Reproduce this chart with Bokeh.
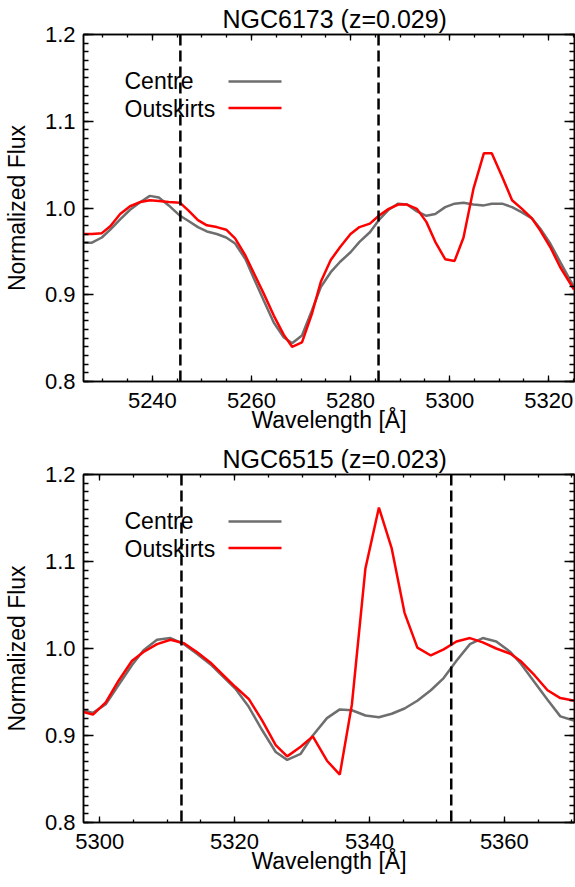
from bokeh.plotting import figure
from bokeh.models import (Range1d, FixedTicker, LinearAxis, Span, Label, Arrow,
                          PrintfTickFormatter, CustomLabelingPolicy)
from bokeh.layouts import column
from bokeh.embed import file_html
from bokeh.resources import INLINE

FONT = "Liberation Sans"

# ---------------- data ----------------
wl_6173 = [5226.1, 5227.8, 5229.8, 5231.5, 5233.5, 5235.5, 5237.6, 5239.5, 5241.3, 5243.3,
           5245.6, 5247.3, 5249.2, 5251.0, 5253.0, 5254.9, 5256.7, 5258.8, 5260.4, 5262.5,
           5264.5, 5266.5, 5268.2, 5270.2, 5272.2, 5274.0, 5276.0, 5277.9, 5280.0, 5281.8,
           5283.9, 5285.7, 5287.7, 5289.6, 5291.4, 5293.4, 5295.3, 5297.1, 5299.1, 5301.0,
           5302.8, 5304.8, 5306.9, 5308.5, 5310.6, 5312.6, 5314.6, 5316.6, 5318.3, 5320.3,
           5322.3, 5325.1]
centre_6173 = [0.960, 0.960, 0.966, 0.975, 0.987, 0.998, 1.007, 1.014, 1.012, 1.003,
               0.991, 0.985, 0.978, 0.973, 0.970, 0.966, 0.959, 0.941, 0.920, 0.893,
               0.868, 0.851, 0.844, 0.853, 0.882, 0.909, 0.926, 0.938, 0.949, 0.961,
               0.972, 0.986, 0.998, 1.005, 1.004, 0.996, 0.991, 0.993, 1.001, 1.005,
               1.006, 1.004, 1.003, 1.005, 1.005, 1.001, 0.995, 0.988, 0.976, 0.959,
               0.938, 0.909]
outskirts_6173 = [0.970, 0.970, 0.971, 0.979, 0.993, 1.002, 1.007, 1.009, 1.008, 1.007,
                  1.006, 0.997, 0.986, 0.980, 0.978, 0.975, 0.965, 0.945, 0.926, 0.901,
                  0.876, 0.854, 0.840, 0.845, 0.878, 0.915, 0.940, 0.955, 0.970, 0.978,
                  0.982, 0.991, 0.999, 1.004, 1.004, 0.999, 0.984, 0.961, 0.941, 0.939,
                  0.966, 1.022, 1.063, 1.063, 1.036, 1.009, 0.999, 0.988, 0.974, 0.955,
                  0.932, 0.906]

wl_6515 = [5297.6, 5299.0, 5300.9, 5302.8, 5304.8, 5306.5, 5308.5, 5310.5, 5312.5, 5314.4,
           5316.4, 5318.1, 5320.1, 5322.1, 5324.1, 5326.1, 5327.8, 5329.8, 5331.6, 5333.7,
           5335.6, 5337.4, 5339.4, 5341.4, 5343.3, 5345.2, 5347.1, 5349.1, 5351.0, 5352.9,
           5354.9, 5356.8, 5358.8, 5360.9, 5362.5, 5364.5, 5366.4, 5368.3, 5370.4]
centre_6515 = [0.929, 0.926, 0.936, 0.958, 0.981, 0.998, 1.010, 1.012, 1.005, 0.994,
               0.982, 0.969, 0.954, 0.933, 0.906, 0.881, 0.872, 0.879, 0.900, 0.920,
               0.930, 0.929, 0.923, 0.921, 0.925, 0.931, 0.940, 0.952, 0.966, 0.986,
               1.005, 1.012, 1.008, 0.996, 0.982, 0.961, 0.941, 0.922, 0.917]
outskirts_6515 = [0.927, 0.924, 0.938, 0.963, 0.986, 0.996, 1.005, 1.010, 1.006, 0.996,
                  0.984, 0.971, 0.956, 0.942, 0.917, 0.889, 0.876, 0.887, 0.899, 0.871,
                  0.855, 0.936, 1.092, 1.162, 1.115, 1.041, 1.001, 0.992, 0.999, 1.008,
                  1.012, 1.007, 1.000, 0.994, 0.985, 0.969, 0.952, 0.943, 0.940]

titles = ["NGC6173 (z=0.029)", "NGC6515 (z=0.023)"]
x_label = "Wavelength [Å]"
y_label = "Normalized Flux"
xrange_6173 = (5226.1, 5325.2)
xrange_6515 = (5297.6, 5370.4)
xticks_6173 = [5240, 5260, 5280, 5300, 5320]
xticks_6515 = [5300, 5320, 5340, 5360]
xminor_6173 = [5225 + 5 * i for i in range(21)]
xminor_6515 = [5295 + 5 * i for i in range(16)]
yticks = [0.8, 0.9, 1.0, 1.1, 1.2]
yminor = [round(0.8 + 0.01 * i, 2) for i in range(41)]
band_6173 = [5245.65, 5285.65]   # Fe5270 index band
band_6515 = [5312.125, 5352.125]  # Fe5335 index band
series_names = ["Centre", "Outskirts"]
GREY = "#6e6e6e"
RED = "#ff0000"

LEFT = 83
FRAME_W = 491
RIGHT = 1


def style_axis(ax, tick_in, minor_in, show_labels=True):
    ax.axis_line_color = "black"
    ax.axis_line_width = 1.5
    ax.major_tick_in = tick_in
    ax.major_tick_out = 0
    ax.minor_tick_in = minor_in
    ax.minor_tick_out = 0
    ax.major_tick_line_color = "black"
    ax.minor_tick_line_color = "black"
    ax.major_tick_line_width = 1.3
    ax.minor_tick_line_width = 1.3
    ax.major_label_text_font = FONT
    ax.major_label_text_color = "black"
    if show_labels:
        ax.major_label_text_font_size = "22px"
    else:
        # mirror axis: ticks only, no labels drawn
        ax.major_label_text_font_size = "0px"
        ax.major_label_standoff = 0
        ax.major_label_policy = CustomLabelingPolicy(code="return []")
    ax.axis_label_text_font = FONT
    ax.axis_label_text_font_size = "23px"
    ax.axis_label_text_font_style = "normal"
    ax.axis_label_text_color = "black"


def make_panel(title, wl, centre, outskirts, xr, xt, xm, band, top, frame_h, bottom,
               title_standoff):
    p = figure(width=LEFT + FRAME_W + RIGHT, height=top + frame_h + bottom,
               output_backend="svg", toolbar_location=None,
               x_range=Range1d(*xr), y_range=Range1d(0.8, 1.2),
               min_border_left=LEFT, min_border_right=RIGHT, min_border_top=top,
               min_border_bottom=bottom,
               x_axis_label=x_label, y_axis_label=y_label)
    p.xgrid.visible = False
    p.ygrid.visible = False
    p.outline_line_color = "black"
    p.outline_line_width = 1.5
    p.background_fill_color = "white"
    p.border_fill_color = "white"

    p.title.text = title
    p.title.text_font = FONT
    p.title.text_font_size = "25px"
    p.title.text_font_style = "normal"
    p.title.text_color = "black"
    p.title.align = "left"
    p.title.offset = 139
    p.title.standoff = title_standoff

    xtick = FixedTicker(ticks=xt, minor_ticks=xm)
    ytick = FixedTicker(ticks=yticks, minor_ticks=yminor)
    p.xaxis.ticker = xtick
    p.yaxis.ticker = ytick
    p.yaxis.formatter = PrintfTickFormatter(format="%.1f")
    style_axis(p.xaxis[0], 6, 3)
    style_axis(p.yaxis[0], 10, 5)
    p.xaxis.major_label_standoff = 11
    p.xaxis.axis_label_standoff = -4
    p.yaxis.major_label_standoff = 8
    p.yaxis.axis_label_standoff = 12

    top_ax = LinearAxis(ticker=xtick)
    right_ax = LinearAxis(ticker=ytick)
    style_axis(top_ax, 6, 3, show_labels=False)
    style_axis(right_ax, 10, 5, show_labels=False)
    p.add_layout(top_ax, "above")
    p.add_layout(right_ax, "right")

    p.line(wl, centre, line_color=GREY, line_width=2.5)
    p.line(wl, outskirts, line_color=RED, line_width=2.5)

    for b in band:
        p.add_layout(Span(location=b, dimension="height", line_color="black",
                          line_width=2.5, line_dash="11 5"))

    # legend: label text followed by a line sample (screen units from frame bottom-left)
    for i, (name, col) in enumerate(zip(series_names, [GREY, RED])):
        p.add_layout(Label(x=41, y=frame_h - 46 - 28 * i, x_units="screen",
                           y_units="screen", text=name, text_font=FONT,
                           text_font_size="23px", text_baseline="middle",
                           text_color="black"))
        yl = frame_h - 47 - 26.5 * i
        p.add_layout(Arrow(end=None, x_start=145, y_start=yl, x_end=198, y_end=yl,
                           start_units="screen", end_units="screen",
                           line_color=col, line_width=2.5))
    return p


p1 = make_panel(titles[0], wl_6173, centre_6173, outskirts_6173, xrange_6173,
                xticks_6173, xminor_6173, band_6173, 34, 347, 60, 4)
p2 = make_panel(titles[1], wl_6515, centre_6515, outskirts_6515, xrange_6515,
                xticks_6515, xminor_6515, band_6515, 33, 348, 65, 3)

layout = column(p1, p2, spacing=0)
open("out.html", "w").write(file_html(layout, INLINE))
